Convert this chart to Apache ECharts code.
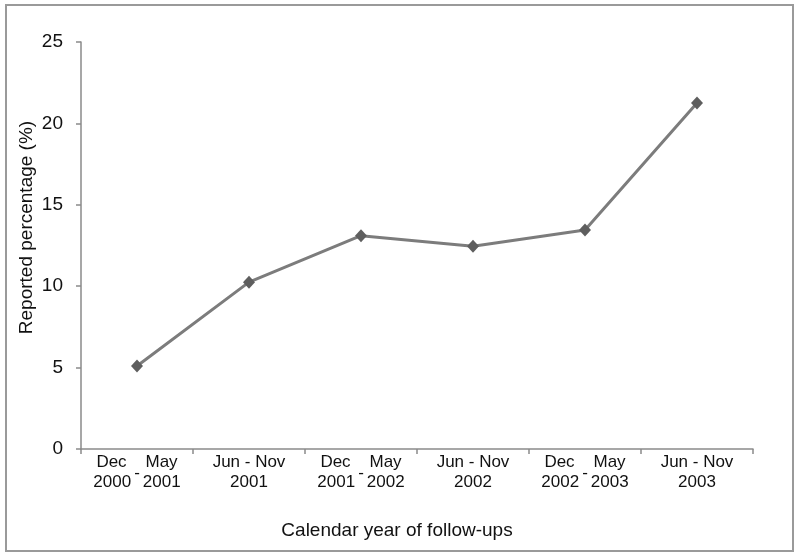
<!DOCTYPE html>
<html>
<head>
<meta charset="utf-8">
<script src="https://cdn.jsdelivr.net/npm/echarts@6/dist/echarts.min.js"></script>
<style>
html,body{margin:0;padding:0;background:#fff;}
#chart{width:800px;height:558px;}
</style>
</head>
<body>
<div id="chart"></div>
<script>
// Data
const categories = [
  "Dec    May\n2000{d|-}2001",
  "Jun - Nov\n2001",
  "Dec    May\n2001{d|-}2002",
  "Jun - Nov\n2002",
  "Dec    May\n2002{d|-}2003",
  "Jun - Nov\n2003"
];
const values = [5.1, 10.25, 13.1, 12.45, 13.45, 21.25];
const yTicks = { min: 0, max: 25, interval: 5 };
const xTitle = "Calendar year of follow-ups";
const yTitle = "Reported percentage (%)";

const chart = echarts.init(document.getElementById('chart'), null, {renderer: 'canvas'});
const font = '"Liberation Sans", Arial, Helvetica, sans-serif';
const axisColor = '#8a8a8a';

chart.setOption({
  animation: false,
  backgroundColor: '#fff',
  graphic: [{
    type: 'rect',
    shape: {x: 6, y: 5, width: 787, height: 546},
    style: {fill: 'none', stroke: '#9a9a9a', lineWidth: 2},
    silent: true
  }],
  grid: {left: 81, right: 47, top: 42, bottom: 109, containLabel: false},
  xAxis: {
    type: 'category',
    data: categories,
    boundaryGap: true,
    name: xTitle,
    nameLocation: 'middle',
    nameGap: 72,
    nameMoveOverlap: false,
    nameTextStyle: {fontFamily: font, fontSize: 19, color: '#111', padding: [0, 40, 0, 0]},
    axisLine: {lineStyle: {color: axisColor, width: 1.5}},
    axisTick: {show: true, alignWithLabel: false, inside: false, length: 5, lineStyle: {color: axisColor, width: 1.5}},
    axisLabel: {
      interval: 0,
      margin: 3,
      fontFamily: font,
      fontSize: 17,
      color: '#111',
      lineHeight: 20,
      rich: {
        d: {fontFamily: font, fontSize: 17, color: '#111', padding: [0, 3, 0, 3], height: 2, lineHeight: 2, verticalAlign: 'top'}
      }
    },
    splitLine: {show: false}
  },
  yAxis: {
    type: 'value',
    min: yTicks.min,
    max: yTicks.max,
    interval: yTicks.interval,
    name: yTitle,
    nameLocation: 'middle',
    nameGap: 45,
    nameMoveOverlap: false,
    nameRotate: 90,
    nameTextStyle: {fontFamily: font, fontSize: 19, color: '#111', padding: [0, 0, 0, 36]},
    axisLine: {show: true, lineStyle: {color: axisColor, width: 1.5}},
    axisTick: {show: true, inside: false, length: 5, lineStyle: {color: axisColor, width: 1.5}},
    axisLabel: {fontFamily: font, fontSize: 19, color: '#111', margin: 18},
    splitLine: {show: false}
  },
  series: [{
    type: 'line',
    data: values,
    symbol: 'diamond',
    symbolSize: [12, 13],
    lineStyle: {color: '#7c7c7c', width: 3},
    itemStyle: {color: '#5e5e5e'},
    z: 3
  }]
});
</script>
</body>
</html>
